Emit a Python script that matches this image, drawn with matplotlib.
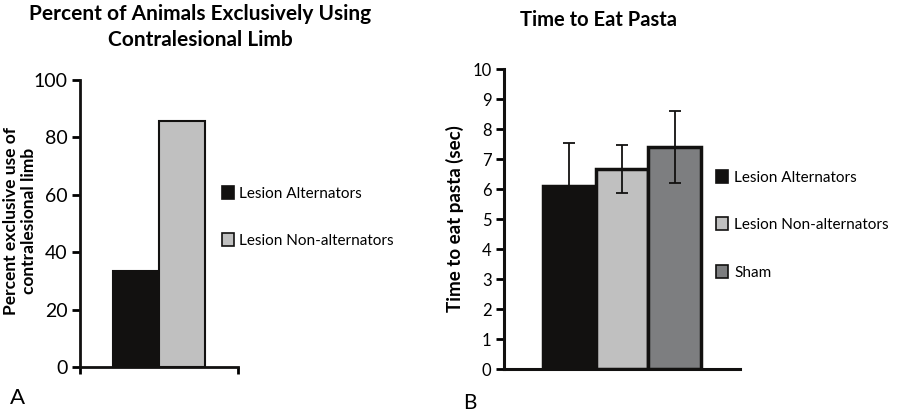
import matplotlib
matplotlib.use("Agg")
import matplotlib.pyplot as plt
from matplotlib.patches import Patch

plt.rcParams['font.family'] = ['Lato', 'DejaVu Sans']

# Panel A data
a_groups = ["Lesion Alternators", "Lesion Non-alternators"]
a_values = [33.3, 85.7]
a_colors = ["#121110", "#c0c0c0"]
a_yticks = [0, 20, 40, 60, 80, 100]

# Panel B data
b_groups = ["Lesion Alternators", "Lesion Non-alternators", "Sham"]
b_values = [6.1, 6.67, 7.4]
b_errors = [1.45, 0.8, 1.2]
b_colors = ["#121110", "#c0c0c0", "#7d7e80"]
b_yticks = list(range(0, 11))

fig = plt.figure(figsize=(9, 4.16), dpi=100)

# ---------- Panel A ----------
axA = fig.add_axes([80/900, 1-367/416, 158/900, 287/416])
xa = list(range(len(a_values)))
axA.bar(xa, a_values, width=1.0, color=a_colors, edgecolor="#121110", linewidth=1.5, zorder=2)
axA.set_xlim(-1.217, 2.217)
axA.set_ylim(0, 100)
axA.set_yticks(a_yticks)
axA.set_xticks([-1.217, 2.217])
axA.set_xticklabels([])
axA.tick_params(axis='y', direction='out', length=6, width=2, labelsize=14, pad=3)
axA.tick_params(axis='x', direction='out', length=5, width=2)
for s in ['top', 'right']:
    axA.spines[s].set_visible(False)
for s in ['left', 'bottom']:
    axA.spines[s].set_linewidth(2)
    axA.spines[s].set_color("#121110")
fig.text(20/900, 1-221/416, "Percent exclusive use of\ncontralesional limb", rotation=90,
         ha='center', va='center', fontsize=12.5, fontweight='bold', linespacing=1.1)
handlesA = [Patch(facecolor=c, edgecolor="#121110", linewidth=1.2) for c in a_colors]
fig.legend(handlesA, a_groups, loc='upper left', bbox_to_anchor=(222/900, 1-186/416),
           frameon=False, fontsize=11, handlelength=0.8, handleheight=0.9,
           handletextpad=0.3, labelspacing=2.15, borderaxespad=0, borderpad=0)
fig.text(200/900, 1-27/416, "Percent of Animals Exclusively Using\nContralesional Limb",
         ha='center', va='center', fontsize=15, fontweight='bold', linespacing=1.4)
fig.text(10/900, 1-398/416, "A", fontsize=16, ha='left', va='center')

# ---------- Panel B ----------
axB = fig.add_axes([504/900, 1-369/416, 236/900, 300/416])
xb = list(range(len(b_values)))
axB.bar(xb, b_values, width=1.0, color=b_colors, edgecolor="#121110", linewidth=2.5, zorder=2)
axB.errorbar(xb, b_values, yerr=b_errors, fmt='none', ecolor="#121110", elinewidth=1.3,
             capsize=4, capthick=1.3, zorder=3)
axB.set_xlim(-1.24, 3.24)
axB.set_ylim(0, 10)
axB.set_yticks(b_yticks)
axB.set_xticks([])
axB.tick_params(axis='y', direction='out', length=6, width=2, labelsize=12, pad=3)
for s in ['top', 'right']:
    axB.spines[s].set_visible(False)
for s in ['left', 'bottom']:
    axB.spines[s].set_linewidth(2.2)
    axB.spines[s].set_color("#121110")
axB.set_ylabel("Time to eat pasta (sec)", fontsize=13.5, fontweight='bold', labelpad=6)
handlesB = [Patch(facecolor=c, edgecolor="#121110", linewidth=1.2) for c in b_colors]
fig.legend(handlesB, b_groups, loc='upper left', bbox_to_anchor=(716/900, 1-170/416),
           frameon=False, fontsize=11, handlelength=0.8, handleheight=0.9,
           handletextpad=0.4, labelspacing=2.15, borderaxespad=0, borderpad=0)
fig.text(598/900, 1-20/416, "Time to Eat Pasta", ha='center', va='center',
         fontsize=14.5, fontweight='bold')
fig.text(463/900, 1-403/416, "B", fontsize=15, ha='left', va='center')

fig.savefig("out.png", dpi=100)
